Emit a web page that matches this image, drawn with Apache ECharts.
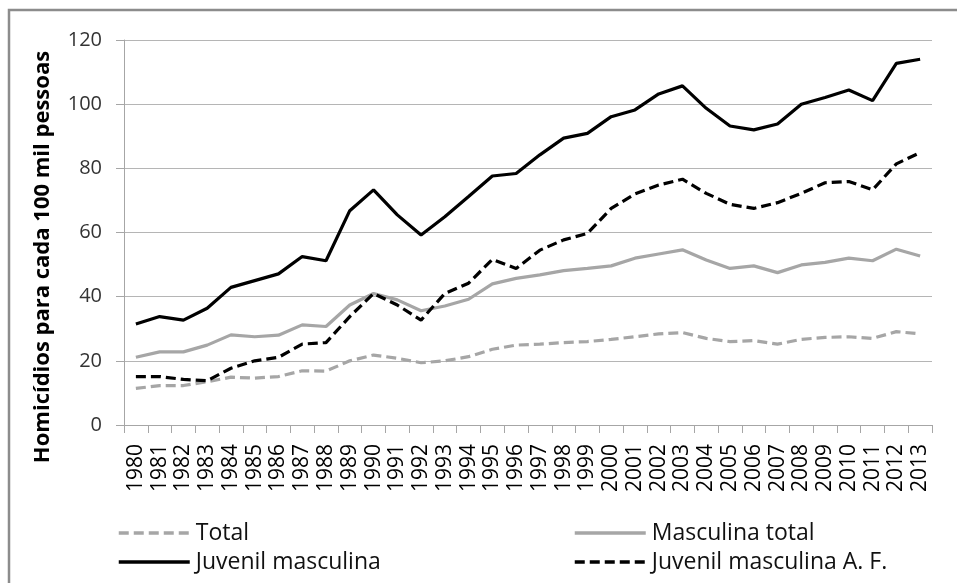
<!DOCTYPE html>
<html>
<head>
<meta charset="utf-8">
<script src="https://cdn.jsdelivr.net/npm/echarts@6/dist/echarts.min.js"></script>
<style>html,body{margin:0;padding:0;background:#fff;}#c{width:957px;height:583px;}</style>
</head>
<body>
<div id="c"></div>
<script>
const years = ['1980','1981','1982','1983','1984','1985','1986','1987','1988','1989','1990','1991','1992','1993','1994','1995','1996','1997','1998','1999','2000','2001','2002','2003','2004','2005','2006','2007','2008','2009','2010','2011','2012','2013'];
const total = [11.4,12.3,12.3,13.5,14.9,14.6,15.1,16.9,16.8,20.0,21.8,20.8,19.4,20.0,21.3,23.6,24.9,25.2,25.7,26.0,26.7,27.5,28.4,28.8,27.0,26.0,26.3,25.2,26.7,27.3,27.5,27.0,29.1,28.4];
const masculinaTotal = [21.1,22.8,22.8,24.9,28.1,27.5,28.0,31.2,30.7,37.4,41.0,39.0,35.6,37.1,39.2,44.0,45.7,46.8,48.1,48.8,49.6,52.0,53.3,54.6,51.4,48.8,49.6,47.5,49.9,50.7,52.0,51.2,54.8,52.7];
const juvenilMasculina = [31.5,33.8,32.7,36.4,42.9,45.0,47.1,52.5,51.2,66.8,73.3,65.5,59.2,64.9,71.2,77.6,78.4,84.2,89.4,90.9,96.1,98.2,103.2,105.7,98.7,93.2,92.0,93.8,100.0,102.1,104.4,101.1,112.7,114.0];
const juvenilAF = [15.1,15.1,14.2,13.8,17.7,20.0,21.1,25.2,25.7,33.8,41.0,37.4,32.7,41.0,44.2,51.6,48.8,54.5,57.7,59.7,67.5,72.0,74.8,76.6,72.2,68.8,67.5,69.3,72.2,75.5,75.9,73.3,81.4,84.9];
const yTicks = {min: 0, max: 120, interval: 20};
const yName = 'Homicídios para cada 100 mil pessoas';
const seriesNames = ['Total', 'Masculina total', 'Juvenil masculina', 'Juvenil masculina A. F.'];

const FONT = '"Open Sans", "Liberation Sans", Arial, sans-serif';
const chart = echarts.init(document.getElementById('c'), null, {renderer: 'canvas'});
const grayAxis = '#a6a6a6';
function leg(name, left, top) {
  return {orient: 'horizontal', left: left, top: top, padding: 0, itemWidth: 71, itemHeight: 14, itemGap: 0,
    data: [name], selectedMode: false, itemStyle: {opacity: 0}, lineStyle: {width: 3.5},
    textStyle: {fontSize: 23, lineHeight: 24, color: '#111', fontFamily: FONT, padding: [0, 0, 0, 1]}};
}
chart.setOption({
  backgroundColor: '#fff',
  animation: false,
  textStyle: {fontFamily: FONT},
  grid: {left: 124, right: 25, top: 40, bottom: 158, containLabel: false},
  graphic: [
    {type: 'rect', shape: {x: 9, y: 10, width: 1000, height: 1000}, style: {fill: 'none', stroke: '#8c8c8c', lineWidth: 2.5}, silent: true},
    {type: 'text', x: 43, y: 257, rotation: Math.PI / 2, style: {text: yName, font: 'bold 22px ' + FONT, fill: '#000', align: 'center', verticalAlign: 'middle'}}
  ],
  xAxis: {
    type: 'category', data: years, boundaryGap: true,
    axisLine: {lineStyle: {color: grayAxis, width: 1}},
    axisTick: {show: true, length: 8, interval: 0, lineStyle: {color: grayAxis}},
    axisLabel: {rotate: 90, interval: 0, fontSize: 21, color: '#000', margin: 19, fontFamily: FONT},
    splitLine: {show: false}
  },
  yAxis: {
    type: 'value', min: yTicks.min, max: yTicks.max, interval: yTicks.interval,
    axisLine: {show: true, lineStyle: {color: grayAxis, width: 1}},
    axisTick: {show: true, length: 8, lineStyle: {color: grayAxis}},
    axisLabel: {fontSize: 20, color: '#333', margin: 22, fontFamily: FONT},
    splitLine: {show: true, lineStyle: {color: '#b5b5b5', width: 1}}
  },
  legend: [
    leg(seriesNames[0], 117, 521),
    leg(seriesNames[2], 117, 550),
    leg(seriesNames[1], 573, 521),
    leg(seriesNames[3], 573, 550)
  ],
  series: [
    {name: seriesNames[0], type: 'line', data: total, symbol: 'none', showSymbol: false,
     lineStyle: {color: '#a6a6a6', width: 3.2, type: [10, 5]}, itemStyle: {color: '#a6a6a6'}, z: 2},
    {name: seriesNames[1], type: 'line', data: masculinaTotal, symbol: 'none', showSymbol: false,
     lineStyle: {color: '#a6a6a6', width: 3.2, type: 'solid'}, itemStyle: {color: '#a6a6a6'}, z: 3},
    {name: seriesNames[2], type: 'line', data: juvenilMasculina, symbol: 'none', showSymbol: false,
     lineStyle: {color: '#000', width: 3.2, type: 'solid'}, itemStyle: {color: '#000'}, z: 4},
    {name: seriesNames[3], type: 'line', data: juvenilAF, symbol: 'none', showSymbol: false,
     lineStyle: {color: '#000', width: 3.2, type: [10, 5]}, itemStyle: {color: '#000'}, z: 5}
  ]
});
</script>
</body>
</html>
